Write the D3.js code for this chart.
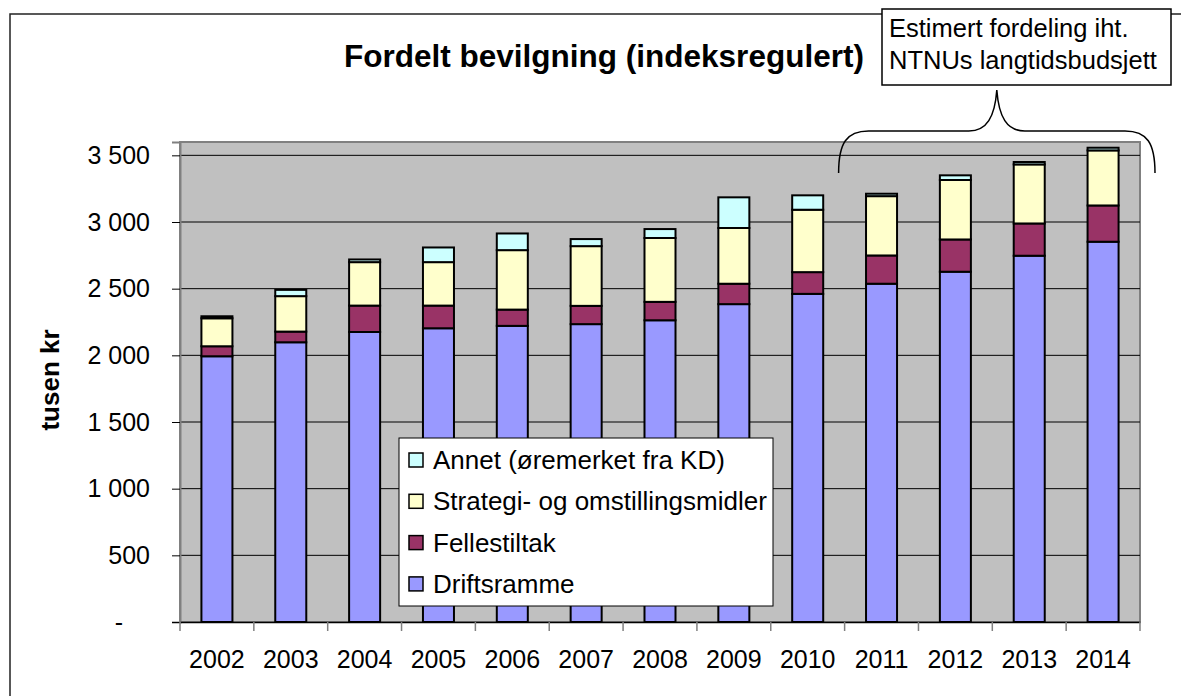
<!DOCTYPE html>
<html>
<head>
<meta charset="utf-8">
<script src="https://cdn.jsdelivr.net/npm/d3@7"></script>
<style>
  body { margin: 0; background: #fff; }
  svg text { font-family: "Liberation Sans", Arial, sans-serif; fill: #000; }
</style>
</head>
<body>
<div id="chart"></div>
<script>
// data (tusen kr)
const years = ["2002","2003","2004","2005","2006","2007","2008","2009","2010","2011","2012","2013","2014"];
const driftsramme = [1993, 2098, 2175, 2203, 2221, 2234, 2263, 2384, 2461, 2537, 2627, 2747, 2852];
const fellestiltak = [75, 80, 198, 170, 122, 137, 138, 153, 163, 212, 242, 242, 272];
const strategi = [210, 266, 326, 326, 446, 448, 479, 418, 468, 445, 446, 443, 413];
const annet = [15, 47, 20, 110, 125, 53, 67, 230, 108, 18, 35, 18, 20];
const yTicks = [0, 500, 1000, 1500, 2000, 2500, 3000, 3500];

const seriesNames = ["Driftsramme", "Fellestiltak", "Strategi- og omstillingsmidler", "Annet (øremerket fra KD)"];
const seriesColors = ["#9999FF", "#993366", "#FFFFCC", "#CCFFFF"];

var W = 1181, H = 696;
var plot = {left: 180, right: 1140, top: 142, bottom: 622};

var svg = d3.select("#chart").append("svg")
    .attr("width", W).attr("height", H);

// outer chart border (runs off the page right and bottom)
svg.append("rect")
    .attr("x", 10).attr("y", 14).attr("width", 1200).attr("height", 720)
    .attr("fill", "#fff").attr("stroke", "#222").attr("stroke-width", 1.5);

var x = d3.scaleBand().domain(years)
    .range([plot.left, plot.right])
    .paddingInner(0.58).paddingOuter(0.29);
var y = d3.scaleLinear().domain([0, 3600]).range([plot.bottom, plot.top]);

// plot area
svg.append("rect")
    .attr("x", plot.left).attr("y", plot.top)
    .attr("width", plot.right - plot.left).attr("height", plot.bottom - plot.top)
    .attr("fill", "#C0C0C0").attr("stroke", "#808080").attr("stroke-width", 2);

// gridlines
svg.append("g").selectAll("line")
    .data(yTicks.filter(d => d > 0))
    .enter().append("line")
    .attr("x1", plot.left).attr("x2", plot.right)
    .attr("y1", d => y(d)).attr("y2", d => y(d))
    .attr("stroke", "#000").attr("stroke-width", 1);

// stacked bars
var rows = years.map((yr, i) => ({
    year: yr,
    d0: driftsramme[i], d1: fellestiltak[i], d2: strategi[i], d3: annet[i]
}));
var stack = d3.stack().keys(["d0", "d1", "d2", "d3"]);
var stacked = stack(rows);

svg.append("g").selectAll("g")
    .data(stacked)
    .enter().append("g")
    .attr("fill", (d, i) => seriesColors[i])
    .selectAll("rect")
    .data(d => d)
    .enter().append("rect")
    .attr("x", d => x(d.data.year))
    .attr("width", x.bandwidth())
    .attr("y", d => y(d[1]))
    .attr("height", d => y(d[0]) - y(d[1]))
    .attr("stroke", "#000").attr("stroke-width", 2);

// y axis
var yAxis = d3.axisLeft(y)
    .tickValues(yTicks)
    .tickSize(8)
    .tickPadding(22)
    .tickFormat(d => d === 0 ? "-" : d3.format(",")(d).replace(",", " "));
var gy = svg.append("g")
    .attr("transform", "translate(" + plot.left + ",0)")
    .call(yAxis);
gy.select(".domain").attr("stroke", "#808080").attr("stroke-width", 2);
gy.selectAll(".tick line").attr("stroke", "#000");
gy.selectAll(".tick text")
    .attr("font-size", 25)
    .attr("font-family", "Liberation Sans, Arial, sans-serif")
    .attr("dx", d => d === 0 ? -27 : 0);

// x axis
var xAxis = d3.axisBottom(x).tickSize(0).tickPadding(28);
var gx = svg.append("g")
    .attr("transform", "translate(0," + plot.bottom + ")")
    .call(xAxis);
gx.select(".domain").attr("stroke", "#000").attr("stroke-width", 1.5);
gx.selectAll(".tick text")
    .attr("font-size", 25)
    .attr("font-family", "Liberation Sans, Arial, sans-serif");
// category dividers below axis
gx.selectAll(".divider")
    .data(years.concat(["end"]))
    .enter().append("line")
    .attr("class", "divider")
    .attr("x1", (d, i) => plot.left + i * x.step())
    .attr("x2", (d, i) => plot.left + i * x.step())
    .attr("y1", 0).attr("y2", 9)
    .attr("stroke", "#808080").attr("stroke-width", 1.5);

// title
svg.append("text")
    .attr("x", 604).attr("y", 67)
    .attr("text-anchor", "middle")
    .attr("font-size", 31.5).attr("font-weight", "bold")
    .text("Fordelt bevilgning (indeksregulert)");

// y title
svg.append("text")
    .attr("transform", "translate(59,380) rotate(-90)")
    .attr("text-anchor", "middle")
    .attr("font-size", 26).attr("font-weight", "bold")
    .text("tusen kr");

// legend (top series first)
var legend = svg.append("g");
legend.append("rect")
    .attr("x", 399).attr("y", 438).attr("width", 374).attr("height", 168)
    .attr("fill", "#fff").attr("stroke", "#000").attr("stroke-width", 1);
var legendOrder = [3, 2, 1, 0];
var li = legend.selectAll(".li")
    .data(legendOrder)
    .enter().append("g")
    .attr("class", "li")
    .attr("transform", (d, i) => "translate(409," + (460 + i * 41.3) + ")");
li.append("rect")
    .attr("x", 0).attr("y", -7).attr("width", 14).attr("height", 14)
    .attr("fill", d => seriesColors[d])
    .attr("stroke", "#000").attr("stroke-width", 1.5);
li.append("text")
    .attr("x", 24).attr("y", 9)
    .attr("font-size", 26)
    .text(d => seriesNames[d]);

// brace over the estimated years
var bx0 = plot.left + 9 * x.step() - 6, bx1 = plot.right + 15, bmid = (bx0 + bx1) / 2;
var braceY = 131, tipY = 90, endY = 173;
svg.append("path")
    .attr("d", "M" + bx0 + "," + endY +
        " C" + bx0 + "," + (braceY + 12) + " " + (bx0 + 8) + "," + braceY + " " + (bx0 + 30) + "," + braceY +
        " L" + (bmid - 28) + "," + braceY +
        " C" + (bmid - 10) + "," + braceY + " " + (bmid - 2) + "," + (braceY - 14) + " " + bmid + "," + tipY +
        " C" + (bmid + 2) + "," + (braceY - 14) + " " + (bmid + 10) + "," + braceY + " " + (bmid + 28) + "," + braceY +
        " L" + (bx1 - 30) + "," + braceY +
        " C" + (bx1 - 8) + "," + braceY + " " + bx1 + "," + (braceY + 12) + " " + bx1 + "," + endY)
    .attr("fill", "none").attr("stroke", "#000").attr("stroke-width", 1.5);

// annotation box
var note = svg.append("g");
note.append("rect")
    .attr("x", 882).attr("y", 9).attr("width", 289).attr("height", 76)
    .attr("fill", "#fff").attr("stroke", "#000").attr("stroke-width", 1.5);
note.append("text").attr("x", 889).attr("y", 37).attr("font-size", 25.5)
    .text("Estimert fordeling iht.");
note.append("text").attr("x", 889).attr("y", 69).attr("font-size", 25.5)
    .text("NTNUs langtidsbudsjett");
</script>
</body>
</html>
